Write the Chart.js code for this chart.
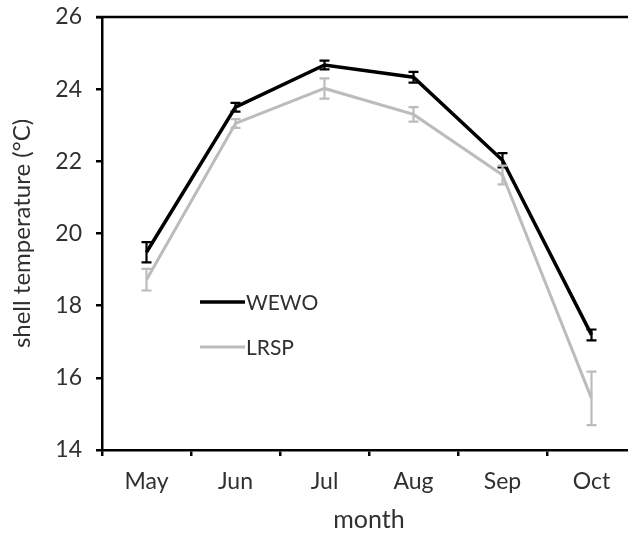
<!DOCTYPE html>
<html>
<head>
<meta charset="utf-8">
<script src="https://cdn.jsdelivr.net/npm/chart.js@4.4.0/dist/chart.umd.min.js"></script>
<style>
html,body{margin:0;padding:0;background:#fff;overflow:hidden;}
#wrap{width:638px;height:535px;position:relative;}
</style>
</head>
<body>
<div id="wrap"><canvas id="c"></canvas></div>
<script>
const months = ['May','Jun','Jul','Aug','Sep','Oct'];
const wewo = [19.48, 23.5, 24.67, 24.33, 22.03, 17.19];
const wewoErr = [0.28, 0.12, 0.12, 0.15, 0.2, 0.15];
const lrsp = [18.72, 23.05, 24.02, 23.3, 21.62, 15.43];
const lrspErr = [0.3, 0.12, 0.28, 0.2, 0.26, 0.74];
const yTicks = [14, 16, 18, 20, 22, 24, 26];
const seriesNames = ['WEWO', 'LRSP'];

const FONT = 'Lato, "Open Sans", sans-serif';
const TXT = '#303030';
const BLACK = '#000000';
const GREY = '#bcbcbc';

const errorBars = {
  id: 'errorBars',
  afterDatasetsDraw(chart) {
    const ctx = chart.ctx;
    const y = chart.scales.y;
    const errs = [wewoErr, lrspErr];
    const cols = [BLACK, GREY];
    chart.data.datasets.forEach((ds, di) => {
      const meta = chart.getDatasetMeta(di);
      ctx.save();
      ctx.strokeStyle = cols[di];
      ctx.lineWidth = 2.2;
      meta.data.forEach((pt, i) => {
        const v = ds.data[i], e = errs[di][i];
        const yt = y.getPixelForValue(v + e), yb = y.getPixelForValue(v - e);
        ctx.beginPath();
        ctx.moveTo(pt.x, yt); ctx.lineTo(pt.x, yb);
        ctx.moveTo(pt.x - 5, yt); ctx.lineTo(pt.x + 5, yt);
        ctx.moveTo(pt.x - 5, yb); ctx.lineTo(pt.x + 5, yb);
        ctx.stroke();
      });
      ctx.restore();
    });
  }
};

const frame = {
  id: 'frame',
  afterDraw(chart) {
    const ctx = chart.ctx, a = chart.chartArea;
    ctx.save();
    ctx.strokeStyle = '#000';
    ctx.lineWidth = 2.5;
    ctx.beginPath();
    ctx.moveTo(a.left - 6, a.top); ctx.lineTo(a.right, a.top);
    ctx.stroke();
    // legend inside plot
    const cols = [BLACK, GREY], widths = [3.5, 3];
    const lx = a.left + 98, ly0 = a.top + 285;
    seriesNames.forEach((name, i) => {
      const ly = ly0 + i * 45;
      ctx.strokeStyle = cols[i]; ctx.lineWidth = widths[i];
      ctx.beginPath(); ctx.moveTo(lx, ly); ctx.lineTo(lx + 45, ly); ctx.stroke();
      ctx.fillStyle = TXT;
      ctx.font = '21px ' + FONT;
      ctx.textBaseline = 'middle';
      ctx.fillText(name, lx + 46, ly + 1);
    });
    ctx.restore();
  }
};

new Chart(document.getElementById('c'), {
  type: 'line',
  data: {
    labels: months,
    datasets: [
      { label: seriesNames[0], data: wewo, borderColor: BLACK, borderWidth: 3.5, pointRadius: 0, tension: 0 },
      { label: seriesNames[1], data: lrsp, borderColor: GREY, borderWidth: 3, pointRadius: 0, tension: 0 }
    ]
  },
  options: {
    responsive: true,
    maintainAspectRatio: false,
    animation: false,
    layout: { padding: { top: 17, right: 2, left: 0, bottom: 0 } },
    plugins: { legend: { display: false }, tooltip: { enabled: false } },
    scales: {
      x: {
        offset: true,
        grid: { offset: true, drawOnChartArea: false, tickLength: 6, color: '#000', lineWidth: 2.5 },
        border: { color: '#000', width: 2.5 },
        ticks: { color: TXT, font: { family: FONT, size: 23 }, padding: 12, maxRotation: 0 },
        title: { display: true, text: 'month', color: TXT, font: { family: FONT, size: 25 }, padding: { bottom: 0, top: 0 } },
        afterFit(s) { s.height = 85; s.paddingLeft = 0; s.paddingRight = 0; }
      },
      y: {
        min: 14, max: 26,
        afterBuildTicks(s) { s.ticks = yTicks.map(v => ({ value: v })); },
        grid: { drawOnChartArea: false, tickLength: 6, color: '#000', lineWidth: 2.5 },
        border: { color: '#000', width: 2.5 },
        ticks: { color: TXT, font: { family: FONT, size: 23 }, padding: 14 },
        title: { display: true, text: 'shell temperature (°C)', color: TXT, font: { family: FONT, size: 24 }, padding: { top: 8, bottom: 0 } },
        afterFit(s) { s.width = 102; s.paddingTop = 0; s.paddingBottom = 0; }
      }
    }
  },
  plugins: [errorBars, frame]
});
</script>
</body>
</html>
